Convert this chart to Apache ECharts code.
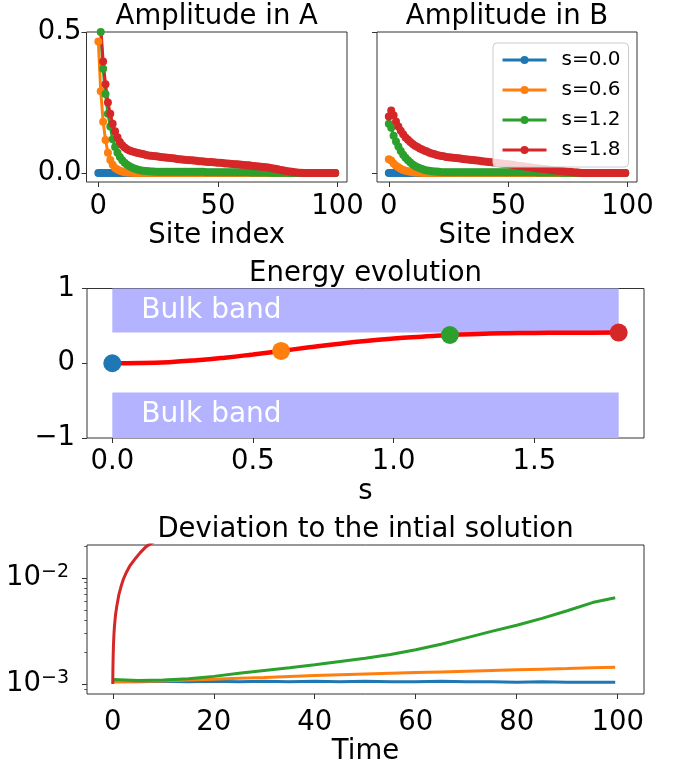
<!DOCTYPE html>
<html>
<head>
<meta charset="utf-8">
<script src="https://cdn.jsdelivr.net/npm/echarts@6/dist/echarts.min.js"></script>
<style>
  html, body { margin: 0; padding: 0; background: #fff; }
  #chart { width: 690px; height: 766px; }
</style>
</head>
<body>
<div id="chart"></div>
<script>
const FONT = 'DejaVu Sans'
const legendNames = ['s=0.0', 's=0.6', 's=1.2', 's=1.8']
const colors = ['#1f77b4', '#ff7f0e', '#2ca02c', '#d62728']

// amplitude on sublattice A, sites 0..99
const ampA_s00 = [
  0,0,0,0,0,0,0,0,0,0, 0,0,0,0,0,0,0,0,0,0, 0,0,0,0,0,0,0,0,0,0, 0,0,0,0,0,0,0,0,0,0,
  0,0,0,0,0,0,0,0,0,0, 0,0,0,0,0,0,0,0,0,0, 0,0,0,0,0,0,0,0,0,0, 0,0,0,0,0,0,0,0,0,0,
  0,0,0,0,0,0,0,0,0,0, 0,0,0,0,0,0,0,0,0,0
]
const ampA_s06 = [
  0.466, 0.29, 0.182, 0.117, 0.072, 0.046, 0.029, 0.018, 0.012, 0.008,
  0.005, 0.003, 0.002, 0.002, 0.001, 0, 0, 0, 0, 0,
  0,0,0,0,0,0,0,0,0,0, 0,0,0,0,0,0,0,0,0,0, 0,0,0,0,0,0,0,0,0,0, 0,0,0,0,0,0,0,0,0,0,
  0,0,0,0,0,0,0,0,0,0, 0,0,0,0,0,0,0,0,0,0, 0,0,0,0,0,0,0,0,0,0, 0,0,0,0,0,0,0,0,0,0
]
const ampA_s12 = [
  0.70, 0.50, 0.37, 0.28, 0.21, 0.165, 0.12, 0.092, 0.072, 0.057,
  0.045, 0.036, 0.029, 0.024, 0.019, 0.016, 0.013, 0.011, 0.009, 0.008,
  0.007, 0.006, 0.005, 0.005, 0.004, 0.004, 0.004, 0.004, 0.004, 0.004,
  0.004, 0.004, 0.004, 0.004, 0.004, 0.004, 0.004, 0.004, 0.004, 0.004,
  0.004, 0.004, 0.004, 0.004, 0.004, 0.003, 0.003, 0.003, 0.003, 0.003,
  0.003, 0.003, 0.003, 0.003, 0.003, 0.003, 0.003, 0.003, 0.003, 0.003,
  0.003, 0.003, 0.003, 0.003, 0.002, 0.002, 0.002, 0.002, 0.002, 0.002,
  0.002, 0.002, 0.001, 0.001, 0.001, 0.001, 0.001, 0.001, 0.001, 0.001,
  0,0,0,0,0,0,0,0,0,0, 0,0,0,0,0,0,0,0,0,0
]
const ampA_s18 = [
  0.80, 0.52, 0.395, 0.315, 0.25, 0.21, 0.175, 0.148, 0.127, 0.11,
  0.098, 0.09, 0.084, 0.080, 0.077, 0.074, 0.072, 0.070, 0.068, 0.066,
  0.064, 0.062, 0.061, 0.060, 0.059, 0.058, 0.057, 0.056, 0.055, 0.054,
  0.053, 0.052, 0.051, 0.050, 0.049, 0.048, 0.047, 0.046, 0.045, 0.045,
  0.044, 0.043, 0.042, 0.042, 0.041, 0.040, 0.039, 0.039, 0.038, 0.037,
  0.036, 0.036, 0.035, 0.034, 0.034, 0.033, 0.032, 0.031, 0.031, 0.030,
  0.029, 0.028, 0.027, 0.027, 0.026, 0.025, 0.024, 0.023, 0.022, 0.021,
  0.020, 0.019, 0.018, 0.016, 0.015, 0.013, 0.011, 0.010, 0.008, 0.006,
  0.005, 0.004, 0.003, 0.002, 0.001, 0.001, 0, 0, 0, 0,
  0,0,0,0,0,0,0,0,0,0
]

// amplitude on sublattice B, sites 0..99
const ampB_s00 = [
  0,0,0,0,0,0,0,0,0,0, 0,0,0,0,0,0,0,0,0,0, 0,0,0,0,0,0,0,0,0,0, 0,0,0,0,0,0,0,0,0,0,
  0,0,0,0,0,0,0,0,0,0, 0,0,0,0,0,0,0,0,0,0, 0,0,0,0,0,0,0,0,0,0, 0,0,0,0,0,0,0,0,0,0,
  0,0,0,0,0,0,0,0,0,0, 0,0,0,0,0,0,0,0,0,0
]
const ampB_s06 = [
  0.049, 0.044, 0.034, 0.026, 0.020, 0.015, 0.011, 0.008, 0.006, 0.004,
  0.003, 0.002, 0.002, 0.001, 0.001, 0, 0, 0, 0, 0,
  0,0,0,0,0,0,0,0,0,0, 0,0,0,0,0,0,0,0,0,0, 0,0,0,0,0,0,0,0,0,0, 0,0,0,0,0,0,0,0,0,0,
  0,0,0,0,0,0,0,0,0,0, 0,0,0,0,0,0,0,0,0,0, 0,0,0,0,0,0,0,0,0,0, 0,0,0,0,0,0,0,0,0,0
]
const ampB_s12 = [
  0.175, 0.160, 0.132, 0.112, 0.094, 0.078, 0.065, 0.054, 0.045, 0.037,
  0.030, 0.025, 0.020, 0.017, 0.014, 0.011, 0.009, 0.008, 0.006, 0.005,
  0.005, 0.004, 0.003, 0.003, 0.003, 0.003, 0.003, 0.003, 0.003, 0.003,
  0.003, 0.003, 0.003, 0.003, 0.003, 0.003, 0.003, 0.003, 0.003, 0.003,
  0.003, 0.003, 0.003, 0.003, 0.003, 0.003, 0.003, 0.003, 0.003, 0.003,
  0.003, 0.003, 0.003, 0.003, 0.003, 0.003, 0.003, 0.003, 0.003, 0.003,
  0.003, 0.003, 0.002, 0.002, 0.002, 0.002, 0.002, 0.002, 0.002, 0.002,
  0.002, 0.002, 0.001, 0.001, 0.001, 0.001, 0.001, 0.001, 0.001, 0.001,
  0,0,0,0,0,0,0,0,0,0, 0,0,0,0,0,0,0,0,0,0
]
const ampB_s18 = [
  0.200, 0.222, 0.205, 0.183, 0.165, 0.150, 0.137, 0.126, 0.118, 0.110,
  0.103, 0.097, 0.092, 0.087, 0.083, 0.079, 0.076, 0.072, 0.069, 0.067,
  0.064, 0.062, 0.060, 0.059, 0.057, 0.056, 0.055, 0.054, 0.053, 0.052,
  0.051, 0.050, 0.049, 0.048, 0.047, 0.046, 0.045, 0.044, 0.043, 0.042,
  0.041, 0.040, 0.039, 0.038, 0.037, 0.036, 0.035, 0.034, 0.033, 0.032,
  0.031, 0.030, 0.029, 0.027, 0.026, 0.025, 0.024, 0.023, 0.021, 0.020,
  0.019, 0.018, 0.017, 0.016, 0.015, 0.014, 0.013, 0.012, 0.011, 0.010,
  0.009, 0.008, 0.007, 0.006, 0.005, 0.004, 0.004, 0.003, 0.002, 0.002,
  0.001, 0, 0, 0, 0, 0, 0, 0, 0, 0,
  0,0,0,0,0,0,0,0,0,0
]

// energy of the edge state along s
const energyS = [0, 0.1, 0.2, 0.3, 0.4, 0.5, 0.6, 0.7, 0.8, 0.9, 1.0, 1.1, 1.2, 1.3, 1.4, 1.5, 1.6, 1.7, 1.8]
const energyE = [0, 0.003, 0.015, 0.04, 0.075, 0.118, 0.165, 0.213, 0.258, 0.298, 0.33, 0.355, 0.378, 0.392, 0.401, 0.406, 0.408, 0.409, 0.41]
const dotS = [0, 0.6, 1.2, 1.8]
const dotE = [0, 0.165, 0.378, 0.41]
const bandUpper = [0.41, 1]
const bandLower = [-1, -0.39]
const bandLabel = 'Bulk band'

// deviation to the initial solution
const devTime = [0, 5, 10, 15, 20, 25, 30, 35, 40, 45, 50, 55, 60, 65, 70, 75, 80, 85, 90, 95, 99.5]
const dev_s00 = [1.05e-3, 1.05e-3, 1.06e-3, 1.05e-3, 1.06e-3, 1.05e-3, 1.06e-3, 1.05e-3, 1.06e-3, 1.05e-3, 1.06e-3,
  1.05e-3, 1.05e-3, 1.06e-3, 1.05e-3, 1.05e-3, 1.04e-3, 1.05e-3, 1.04e-3, 1.04e-3, 1.04e-3]
const dev_s06 = [1.05e-3, 1.06e-3, 1.07e-3, 1.09e-3, 1.11e-3, 1.13e-3, 1.15e-3, 1.175e-3, 1.20e-3, 1.22e-3, 1.24e-3,
  1.26e-3, 1.28e-3, 1.30e-3, 1.32e-3, 1.34e-3, 1.36e-3, 1.38e-3, 1.40e-3, 1.425e-3, 1.44e-3]
const dev_s12 = [1.10e-3, 1.08e-3, 1.09e-3, 1.12e-3, 1.18e-3, 1.26e-3, 1.34e-3, 1.42e-3, 1.52e-3, 1.63e-3, 1.75e-3,
  1.90e-3, 2.10e-3, 2.37e-3, 2.72e-3, 3.13e-3, 3.58e-3, 4.15e-3, 4.90e-3, 5.85e-3, 6.5e-3]
const redTime = [0, 0.03, 0.08, 0.13, 0.22, 0.33, 0.55, 0.79, 1.2, 1.64, 2.1, 2.63, 3.4, 4.28, 5.4, 6.6, 8.2]
const dev_s18 = [1.0e-3, 1.35e-3, 1.8e-3, 2.25e-3, 2.85e-3, 3.47e-3, 4.5e-3, 5.37e-3, 6.9e-3, 8.28e-3, 9.7e-3,
  0.0111, 0.0130, 0.0148, 0.0172, 0.0197, 0.022]

const titles = ['Amplitude in A', 'Amplitude in B', 'Energy evolution', 'Deviation to the intial solution']
const siteTicks = [0, 50, 100]
const ampTicks = [0, 0.5]
const sTicks = [0, 0.5, 1.0, 1.5]
const eTicks = [-1, 0, 1]
const timeTicks = [0, 20, 40, 60, 80, 100]
const devTicks = [0.001, 0.01]
const devMinorTicks = [0.0009, 0.002, 0.003, 0.004, 0.005, 0.006, 0.007, 0.008, 0.009, 0.02]

const TXT = { color: '#000', fontFamily: FONT, fontSize: 27.5 }
const TICK = { color: '#333', width: 1 }

function valueAxis(gridIndex, min, max, ticks, opts) {
  opts = opts || {}
  return {
    type: opts.type || 'value',
    gridIndex: gridIndex,
    min: min,
    max: max,
    position: opts.position,
    axisLine: { show: false, onZero: false },
    splitLine: { show: false },
    axisTick: { show: true, inside: false, length: opts.tickLen || 5, customValues: ticks, lineStyle: opts.tickStyle || TICK },
    axisLabel: Object.assign({
      show: opts.showLabel !== false,
      customValues: ticks,
      margin: opts.margin || 10,
      formatter: opts.fmt,
      rich: opts.rich
    }, TXT),
    name: opts.name,
    nameLocation: 'middle',
    nameGap: opts.nameGap || 39,
    nameTextStyle: TXT
  }
}

const fix1 = v => v.toFixed(1)
const minus = v => String(v).replace('-', '\u2212')
const pow10 = v => '{b|10}{s|\u2212' + Math.round(-Math.log10(v)) + '}'

const series = []
const ampA = [ampA_s00, ampA_s06, ampA_s12, ampA_s18]
const ampB = [ampB_s00, ampB_s06, ampB_s12, ampB_s18]
;[ampA, ampB].forEach((group, g) => {
  group.forEach((arr, k) => {
    series.push({
      name: legendNames[k],
      type: 'line',
      xAxisIndex: g,
      yAxisIndex: g,
      data: arr.map((v, i) => [i, v]),
      symbol: 'circle',
      symbolSize: 8,
      showSymbol: true,
      clip: true,
      lineStyle: { width: 3, color: colors[k] },
      itemStyle: { color: colors[k], borderWidth: 0, opacity: 1 },
      emphasis: { disabled: true }
    })
  })
})

series.push({
  name: 'energy',
  type: 'line',
  xAxisIndex: 2,
  yAxisIndex: 2,
  data: energyS.map((s, i) => [s, energyE[i]]),
  showSymbol: false,
  smooth: true,
  lineStyle: { width: 4.5, color: '#ff0000' },
  emphasis: { disabled: true },
  markArea: {
    silent: true,
    itemStyle: { color: '#b3b3ff', opacity: 1 },
    label: { show: true, position: 'insideLeft', distance: 29, color: '#fff', fontSize: 28, fontFamily: FONT },
    data: [
      [{ name: bandLabel, xAxis: energyS[0], yAxis: bandUpper[0] }, { xAxis: energyS[energyS.length - 1], yAxis: bandUpper[1] }],
      [{ name: bandLabel, xAxis: energyS[0], yAxis: bandLower[0] }, { xAxis: energyS[energyS.length - 1], yAxis: bandLower[1] }]
    ]
  }
})
series.push({
  name: 'states',
  type: 'scatter',
  xAxisIndex: 2,
  yAxisIndex: 2,
  symbolSize: 18,
  z: 5,
  data: dotS.map((s, i) => ({ value: [s, dotE[i]], itemStyle: { color: colors[i], borderWidth: 0, opacity: 1 } })),
  emphasis: { disabled: true }
})

;[dev_s00, dev_s06, dev_s12].forEach((arr, k) => {
  series.push({
    name: 'dev ' + legendNames[k],
    type: 'line',
    xAxisIndex: 3,
    yAxisIndex: 3,
    data: arr.map((v, i) => [devTime[i], v]),
    showSymbol: false,
    clip: true,
    lineStyle: { width: 3, color: colors[k] },
    emphasis: { disabled: true }
  })
})
series.push({
  name: 'dev ' + legendNames[3],
  type: 'line',
  xAxisIndex: 3,
  yAxisIndex: 3,
  data: dev_s18.map((v, i) => [redTime[i], v]),
  showSymbol: false,
  clip: true,
  lineStyle: { width: 3, color: colors[3] },
  emphasis: { disabled: true }
})

const gridBox = { show: true, borderColor: '#333', borderWidth: 1, backgroundColor: 'transparent', outerBoundsMode: 'none' }
const titlePos = [[216.75, 16.5], [507, 16.5], [365.5, 273.5], [365.5, 530]]

const option = {
  animation: false,
  backgroundColor: '#fff',
  textStyle: { fontFamily: FONT },
  grid: [
    Object.assign({ left: 86.5, top: 32, width: 260.5, height: 150 }, gridBox),
    Object.assign({ left: 377, top: 32, width: 260, height: 150 }, gridBox),
    Object.assign({ left: 87, top: 288.5, width: 557, height: 149.5 }, gridBox),
    Object.assign({ left: 87, top: 545, width: 557, height: 149 }, gridBox)
  ],
  xAxis: [
    valueAxis(0, -4.95, 103.95, siteTicks, { name: 'Site index', margin: 11 }),
    valueAxis(1, -4.95, 103.95, siteTicks, { name: 'Site index', margin: 11 }),
    valueAxis(2, -0.09, 1.89, sTicks, { name: 's', fmt: fix1, margin: 10, nameGap: 40 }),
    valueAxis(3, -5.1, 105.2, timeTicks, { name: 'Time', margin: 15 })
  ],
  yAxis: [
    valueAxis(0, -0.032, 0.5, ampTicks, { fmt: fix1, margin: 5 }),
    valueAxis(1, -0.032, 0.5, ampTicks, { showLabel: false }),
    valueAxis(2, -1, 1, eTicks, { fmt: minus, margin: 12 }),
    valueAxis(3, 0.000805, 0.0204, devTicks, {
      type: 'log', fmt: pow10, margin: 18, position: 'left',
      rich: {
        b: { fontSize: 27.5, lineHeight: 27, fontFamily: FONT, color: '#000', verticalAlign: 'bottom' },
        s: { fontSize: 19, lineHeight: 19, fontFamily: FONT, color: '#000', verticalAlign: 'bottom', padding: [0, 0, 10, 0] }
      }
    }),
    valueAxis(3, 0.000805, 0.0204, devMinorTicks, {
      type: 'log', showLabel: false, position: 'left', tickLen: 2.8, tickStyle: { color: '#333', width: 0.8 }
    })
  ],
  legend: {
    data: legendNames,
    orient: 'vertical',
    left: 493,
    top: 43,
    itemWidth: 44,
    itemHeight: 10,
    itemGap: 10,
    padding: [7, 8],
    backgroundColor: 'rgba(255,255,255,0.8)',
    borderColor: '#cccccc',
    borderWidth: 1,
    borderRadius: 4,
    selectedMode: false,
    lineStyle: { width: 3 },
    textStyle: { fontSize: 20, fontFamily: FONT, color: '#000', lineHeight: 20, padding: [0, 0, 0, 10] }
  },
  graphic: titles.map((t, i) => ({
    type: 'text',
    x: titlePos[i][0],
    y: titlePos[i][1],
    style: {
      text: t, fill: '#000', fontSize: 27.5, fontFamily: FONT,
      align: 'center', verticalAlign: 'middle', textAlign: 'center', textVerticalAlign: 'middle'
    }
  })),
  series: series
}

const chart = echarts.init(document.getElementById('chart'))
chart.setOption(option)
window.addEventListener('resize', chart.resize)
</script>
</body>
</html>
